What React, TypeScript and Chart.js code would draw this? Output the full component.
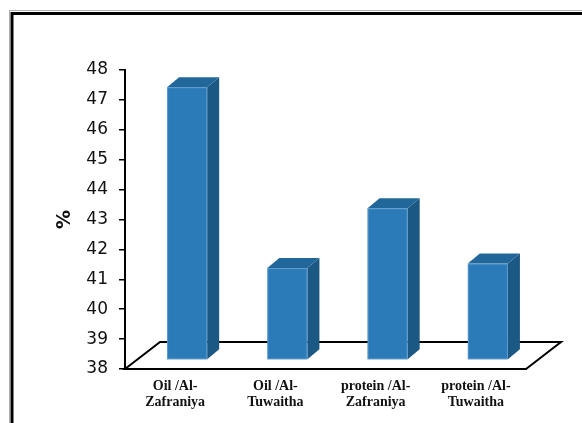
import React, { useEffect, useRef } from 'react';
import { Chart, registerables } from 'chart.js';

Chart.register(...registerables);

const categories: string[][] = [
  ['Oil /Al-', 'Zafraniya'],
  ['Oil /Al-', 'Tuwaitha'],
  ['protein /Al-', 'Zafraniya'],
  ['protein /Al-', 'Tuwaitha'],
];
const values: number[] = [47.1, 41.05, 43.05, 41.2];
const yMin = 38;
const yMax = 48;
const yStep = 1;
const yTitle = '%';

const FRONT = '#2b7bb8';
const TOP = '#22679a';
const SIDE = '#1b5884';

const FLOOR_DX = 35;
const FLOOR_DY = -27;
const SHIFT_DX = 12;
const SHIFT_DY = -9.7;
const DEPTH_DX = 12;
const DEPTH_DY = -10;

const framePlugin = {
  id: 'frame',
  beforeDraw(chart: any) {
    const ctx = chart.ctx;
    ctx.save();
    ctx.fillStyle = '#ffffff';
    ctx.fillRect(0, 0, chart.width, chart.height);
    ctx.strokeStyle = '#b0b0b0';
    ctx.lineWidth = 1;
    ctx.strokeRect(9.5, 10.5, 700, 600);
    ctx.strokeStyle = '#000000';
    ctx.lineWidth = 3;
    ctx.strokeRect(12, 13.5, 700, 600);
    ctx.restore();
  },
};

const threeDPlugin = {
  id: 'threeD',
  beforeDatasetsDraw(chart: any) {
    const ctx = chart.ctx;
    const { left, right, bottom } = chart.chartArea;
    ctx.save();
    ctx.beginPath();
    ctx.moveTo(left, bottom);
    ctx.lineTo(left + FLOOR_DX, bottom + FLOOR_DY);
    ctx.lineTo(right + FLOOR_DX, bottom + FLOOR_DY);
    ctx.lineTo(right, bottom);
    ctx.closePath();
    ctx.fillStyle = '#ffffff';
    ctx.fill();
    ctx.strokeStyle = '#000000';
    ctx.lineWidth = 2;
    ctx.lineJoin = 'miter';
    ctx.stroke();
    ctx.restore();
  },
  afterDatasetsDraw(chart: any) {
    const ctx = chart.ctx;
    const meta = chart.getDatasetMeta(0);
    const basePx = chart.scales.y.getPixelForValue(yMin);
    ctx.save();
    meta.data.forEach((el: any) => {
      const w = el.width;
      const x0 = el.x - w / 2 + SHIFT_DX;
      const x1 = el.x + w / 2 + SHIFT_DX;
      const yT = el.y + SHIFT_DY;
      const yB = basePx + SHIFT_DY;
      // side face
      ctx.beginPath();
      ctx.moveTo(x1, yT);
      ctx.lineTo(x1 + DEPTH_DX, yT + DEPTH_DY);
      ctx.lineTo(x1 + DEPTH_DX, yB + DEPTH_DY);
      ctx.lineTo(x1, yB);
      ctx.closePath();
      ctx.fillStyle = SIDE;
      ctx.fill();
      // top face
      ctx.beginPath();
      ctx.moveTo(x0, yT);
      ctx.lineTo(x0 + DEPTH_DX, yT + DEPTH_DY);
      ctx.lineTo(x1 + DEPTH_DX, yT + DEPTH_DY);
      ctx.lineTo(x1, yT);
      ctx.closePath();
      ctx.fillStyle = TOP;
      ctx.fill();
      // front face
      ctx.fillStyle = FRONT;
      ctx.fillRect(x0, yT, x1 - x0, yB - yT);
      ctx.strokeStyle = 'rgba(120,170,215,0.6)';
      ctx.lineWidth = 1;
      ctx.strokeRect(x0 + 0.5, yT + 0.5, x1 - x0 - 1, yB - yT - 1);
    });
    ctx.restore();
  },
};

export default function App() {
  const ref = useRef<HTMLCanvasElement | null>(null);
  useEffect(() => {
    if (!ref.current) return;
    const chart = new Chart(ref.current, {
      type: 'bar',
      data: {
        labels: categories,
        datasets: [
          {
            data: values,
            base: yMin,
            backgroundColor: 'rgba(0,0,0,0)',
            borderWidth: 0,
            barPercentage: 0.4,
            categoryPercentage: 1,
          },
        ],
      },
      options: {
        responsive: false,
        animation: false,
        layout: { padding: { left: 0, top: 70, right: 56, bottom: 0 } },
        plugins: { legend: { display: false }, tooltip: { enabled: false } },
        scales: {
          x: {
            afterFit: (s: any) => {
              s.height = 54;
            },
            grid: { display: true, drawOnChartArea: false, drawTicks: false },
            border: { display: true, color: '#000', width: 2 },
            ticks: {
              color: '#111',
              padding: 10,
              maxRotation: 0,
              autoSkip: false,
              font: { family: '"Liberation Serif", serif', size: 14, weight: 'bold', lineHeight: 1.1 },
            },
          },
          y: {
            min: yMin,
            max: yMax,
            afterFit: (s: any) => {
              s.width = 125;
            },
            grid: { drawOnChartArea: false, drawTicks: true, tickLength: 6, color: '#000', lineWidth: 1.5 },
            border: { display: true, color: '#000', width: 2 },
            ticks: {
              stepSize: yStep,
              color: '#111',
              padding: 11,
              font: { family: '"DejaVu Sans", sans-serif', size: 17 },
            },
            title: {
              display: true,
              text: yTitle,
              color: '#111',
              padding: { top: 54, bottom: 0 },
              font: { family: '"DejaVu Sans", sans-serif', size: 19, weight: 'bold', lineHeight: 1.2 },
            },
          },
        },
      },
      plugins: [framePlugin, threeDPlugin],
    } as any);
    return () => chart.destroy();
  }, []);
  return (
    <div style={{ position: 'absolute', left: 0, top: 0, width: 582, height: 423 }}>
      <canvas ref={ref} width={582} height={423} style={{ display: 'block' }} />
    </div>
  );
}
